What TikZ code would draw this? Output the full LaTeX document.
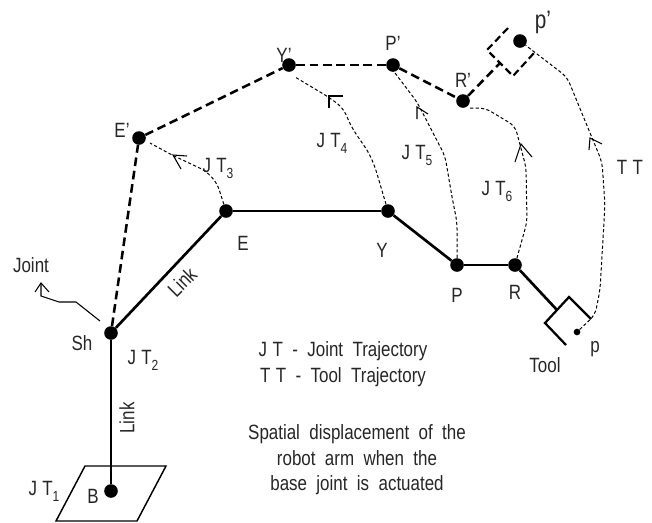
\documentclass[tikz,border=0pt]{standalone}
\usepackage{fontspec}
\setmainfont[FakeStretch=0.82,WordSpace=2]{Liberation Sans}
\newcommand{\sbs}[1]{\raisebox{-0.55ex}{\fontsize{11}{11}\selectfont #1}}
\newcommand{\JT}{J\kern4pt T}
\newcommand{\TT}{T\kern4pt T}
\tikzset{
  x=0.75pt,y=-0.75pt,
  jointdot/.style={circle,fill=black,inner sep=0pt,minimum size=10.2pt},
  smalldot/.style={circle,fill=black,inner sep=0pt,minimum size=5pt},
  lab/.style={inner sep=0pt,text=black!85,font=\fontsize{15.5}{19}\selectfont},
  solidlink/.style={line width=2pt,line cap=butt},
  ghostlink/.style={line width=1.9pt,dash pattern=on 6.5pt off 3.6pt},
  traj/.style={line width=0.75pt,dash pattern=on 2.4pt off 1.7pt,rounded corners=5pt},
  barb/.style={line width=0.8pt},
  plate/.style={line width=1.1pt},
  pointer/.style={line width=0.8pt}
}
\begin{document}
\begin{tikzpicture}
\useasboundingbox (0,0) rectangle (652,522);
% joints
\node[jointdot] (B) at (111,491) {};
\node[jointdot] (Sh) at (111,333) {};
\node[jointdot] (E) at (226,211) {};
\node[jointdot] (Y) at (388,211) {};
\node[jointdot] (P) at (457,265) {};
\node[jointdot] (R) at (515,265) {};
\node[jointdot] (Ep) at (139,138) {};
\node[jointdot] (Yp) at (289,65) {};
\node[jointdot] (Pp) at (393,65) {};
\node[jointdot] (Rp) at (463,101) {};
\node[jointdot] (pp) at (520,41) {};
\node[smalldot] (p) at (577,332) {};
% base plate
\draw[plate] (85,466) -- (166,466) -- (137,521) -- (56,521) -- cycle;
% solid arm
\coordinate (toolroot) at (557,310);
\draw[solidlink] (B) -- (Sh);
\draw[solidlink] (Sh) -- (E);
\draw[solidlink] (E) -- (Y);
\draw[solidlink] (Y) -- (P);
\draw[solidlink] (P) -- (R);
\draw[solidlink] (R) -- (toolroot);
\draw[solidlink,line width=1.7pt,line join=miter] (566,345) -- (545,323) -- (569,297) -- (591,319);
% displaced arm
\coordinate (toolrootp) at (500,63);
\draw[ghostlink] (Sh) -- (Ep);
\draw[ghostlink] (Ep) -- (Yp);
\draw[ghostlink] (Yp) -- (Pp);
\draw[ghostlink] (Pp) -- (Rp);
\draw[ghostlink] (Rp) -- (toolrootp);
\draw[ghostlink,line width=1.6pt,dash pattern=on 5.5pt off 3pt] (508,28) -- (487,50) -- (513,76) -- (534,53);
% trajectories
\draw[traj] (E) -- (217,183) -- (206,171) -- (172,155) -- (150,143);
\draw[traj] (Y) -- (375,167) -- (369,153) -- (352,128) -- (343,108) -- (330,98) -- (295,77);
\draw[traj] (P) -- (457,222) -- (452,197) -- (445,156) -- (417,102) -- (395,73);
\draw[traj] (R) -- (527,222) -- (526,167) -- (515,126) -- (485,108) -- (468,108);
\draw[traj] (p) -- (595,315) -- (600,290) -- (605,205) -- (602,162) -- (567,77) -- (pp);
% arrowheads
\draw[barb] (187,156) -- (173,155) -- (181,169);
\draw[barb] (343,96) -- (329,96) -- (329,108);
\draw[barb] (428,114) -- (417,107) -- (417,119);
\draw[barb] (515,162) -- (521,144) -- (532,157);
\draw[barb] (602,144) -- (590,138) -- (589,150);
% joint pointer
\draw[pointer] (100,321) -- (76,302) -- (59,302) -- (41,296) -- (41,283);
\draw[barb] (35,292) -- (41,283) -- (49,292);
% labels
\node[lab] (tJoint) at (31,265) {Joint};
\node[lab] (tSh) at (82,343) {Sh};
\node[lab] (tE) at (243,243) {E};
\node[lab] (tY) at (382,250) {Y};
\node[lab] (tP) at (457,295) {P};
\node[lab] (tR) at (515,292) {R};
\node[lab] (tB) at (93,496) {B};
\node[lab] (tEp) at (122,130) {E'};
\node[lab] (tYp) at (284,55) {Y'};
\node[lab] (tPp) at (393,43) {P'};
\node[lab] (tRp) at (463,80) {R'};
\node[lab,font=\fontsize{19}{21}\selectfont] (tpp) at (543,22) {p'};
\node[lab] (tp) at (595,349) {p};
\node[lab] (tTool) at (545,365) {Tool};
\node[lab] (tTT) at (630,167) {\TT};
\node[lab,rotate=45] (tLinkA) at (182,282) {Link};
\node[lab,rotate=90] (tLinkB) at (127,418) {Link};
\node[lab] (tJT1) at (44,491) {\JT\sbs{1}};
\node[lab] (tJT2) at (143,360) {\JT\sbs{2}};
\node[lab] (tJT3) at (218,168) {\JT\sbs{3}};
\node[lab] (tJT4) at (332,143) {\JT\sbs{4}};
\node[lab] (tJT5) at (417,155) {\JT\sbs{5}};
\node[lab] (tJT6) at (497,191) {\JT\sbs{6}};
\node[lab,align=center] (tKey) at (343,364) {\JT{} - Joint Trajectory\\\TT{} - Tool Trajectory};
\node[lab,align=center,font=\fontsize{15.5}{19.2}\selectfont] (tNote) at (357,460) {Spatial displacement of the\\robot arm when the\\base joint is actuated};
\end{tikzpicture}
\end{document}
